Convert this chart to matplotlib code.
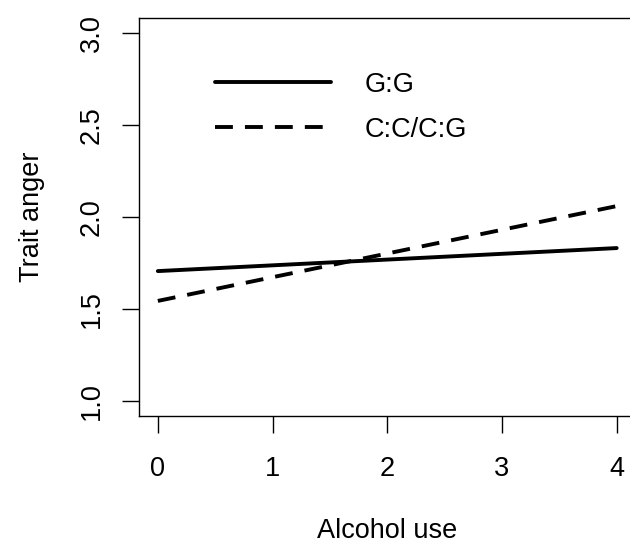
import matplotlib
matplotlib.use("Agg")
from matplotlib import pyplot as plt

plt.rcParams['font.family'] = ['Liberation Sans', 'DejaVu Sans']

# valores
alcohol_use = [0, 4]
anger_gg = [1.707, 1.832]
anger_cc_cg = [1.545, 2.06]
labels = ["G:G", "C:C/C:G"]
xticks = [0, 1, 2, 3, 4]
yticks = [1.0, 1.5, 2.0, 2.5, 3.0]

fs = 19.5

fig = plt.figure(figsize=(6.3, 5.44), dpi=100)
ax = fig.add_axes([0.2214, 0.2353, 0.7866, 0.7311])

ax.plot(alcohol_use, anger_gg, color="black", linewidth=2.8,
        solid_capstyle="round", label=labels[0])
ax.plot(alcohol_use, anger_cc_cg, color="black", linewidth=2.8,
        linestyle=(0, (4.6, 3.1)), dash_capstyle="butt", label=labels[1])

ax.set_xlim(-0.16, 4.16)
ax.set_ylim(0.92, 3.08)
ax.set_xticks(xticks)
ax.set_xticklabels([str(v) for v in xticks])
ax.set_yticks(yticks)
ax.set_yticklabels(["%.1f" % v for v in yticks], rotation=90, va="center")

for s in ax.spines.values():
    s.set_linewidth(1.0)

ax.tick_params(axis="both", length=12, width=1.0, labelsize=fs)
ax.tick_params(axis="x", pad=16.5)
ax.tick_params(axis="y", pad=13)

ax.set_xlabel("Alcohol use", fontsize=fs, labelpad=26.5)
ax.set_ylabel("Trait anger", fontsize=fs, labelpad=24)

ax.legend(loc="upper left", bbox_to_anchor=(0.152, 0.866), frameon=False,
          fontsize=fs, handlelength=4.28, handletextpad=1.26,
          labelspacing=0.7, borderpad=0, borderaxespad=0)

fig.savefig("out.png", dpi=100)
